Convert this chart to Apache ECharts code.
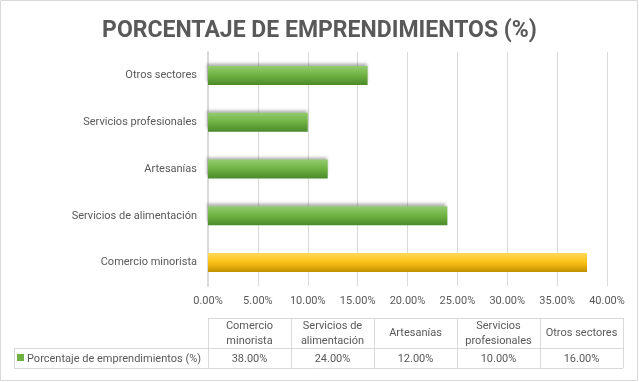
<!DOCTYPE html>
<html><head><meta charset="utf-8">
<script src="https://cdn.jsdelivr.net/npm/echarts@6/dist/echarts.min.js"></script>
<style>html,body{margin:0;padding:0;background:#fff}#c{width:639px;height:382px}</style>
</head><body><div id="c"></div>
<script>
const categories = ['Comercio minorista','Servicios de alimentación','Artesanías','Servicios profesionales','Otros sectores'];
const tableHeaders = [['Comercio','minorista'],['Servicios de','alimentación'],['Artesanías'],['Servicios','profesionales'],['Otros sectores']];
const values = [38, 24, 12, 10, 16];
const seriesName = 'Porcentaje de emprendimientos (%)';
const highlightIndex = 0;

const txt = '#595959';
const font = 'Roboto, "Noto Sans", sans-serif';
const green = new echarts.graphic.LinearGradient(0,0,0,1,[{offset:0,color:'#93cd6f'},{offset:0.5,color:'#6fb142'},{offset:1,color:'#4a8a2a'}]);
const yellow = new echarts.graphic.LinearGradient(0,0,0,1,[{offset:0,color:'#ffd957'},{offset:0.5,color:'#fcc014'},{offset:1,color:'#c08f00'}]);

const chart = echarts.init(document.getElementById('c'));

// table layout
const colX = [208, 291, 374, 457, 540, 623];
const tTop = 318, tMid = 348, tBot = 368, tLeft = 14;
const lineStyle = {stroke:'#d9d9d9', lineWidth:1};
const g = [];
g.push({type:'rect', shape:{x:0.5,y:0.5,width:637,height:380}, style:{fill:null, stroke:'#d9d9d9', lineWidth:1}, silent:true});
g.push({type:'line', shape:{x1:colX[0],y1:tTop+0.5,x2:colX[5],y2:tTop+0.5}, style:lineStyle});
g.push({type:'line', shape:{x1:tLeft,y1:tMid+0.5,x2:colX[5],y2:tMid+0.5}, style:lineStyle});
g.push({type:'line', shape:{x1:tLeft,y1:tBot+0.5,x2:colX[5],y2:tBot+0.5}, style:lineStyle});
g.push({type:'line', shape:{x1:tLeft+0.5,y1:tMid,x2:tLeft+0.5,y2:tBot}, style:lineStyle});
colX.forEach(x => g.push({type:'line', shape:{x1:x+0.5,y1:tTop,x2:x+0.5,y2:tBot}, style:lineStyle}));
tableHeaders.forEach((h, i) => {
  const cx = (colX[i] + colX[i+1]) / 2;
  const startY = h.length === 2 ? tTop + 8 : tTop + 15;
  h.forEach((l, j) => g.push({type:'text', style:{text:l, x:cx, y:startY + j*15, align:'center', verticalAlign:'middle', fill:txt, font:'11px ' + font}}));
  g.push({type:'text', style:{text:values[i].toFixed(2)+'%', x:cx, y:(tMid+tBot)/2+1, align:'center', verticalAlign:'middle', fill:txt, font:'11px ' + font}});
});
g.push({type:'rect', shape:{x:17,y:354,width:7,height:7}, style:{fill:'#6fb142'}});
g.push({type:'text', style:{text:seriesName, x:27, y:(tMid+tBot)/2+1, align:'left', verticalAlign:'middle', fill:txt, font:'11px ' + font}});

chart.setOption({
  animation:false,
  title:{text:'PORCENTAJE DE EMPRENDIMIENTOS (%)', left:'center', top:15,
    textStyle:{color:txt, fontSize:23, fontWeight:'bold', fontFamily:font}},
  grid:{left:208, right:32, top:52, bottom:96, containLabel:false},
  xAxis:{type:'value', min:0, max:40, interval:5,
    axisLine:{show:false}, axisTick:{show:false},
    axisLabel:{color:txt, fontSize:11, fontFamily:font, margin:10, formatter:v=>v.toFixed(2)+'%'},
    splitLine:{lineStyle:{color:'#d9d9d9'}}},
  yAxis:{type:'category', data:categories,
    axisLine:{lineStyle:{color:'#d9d9d9', width:2}}, axisTick:{show:false},
    axisLabel:{color:txt, fontSize:11, fontFamily:font, margin:11}},
  series:[{type:'bar', name:seriesName, barWidth:19,
    data: values.map((v,i)=>({value:v, itemStyle: i===highlightIndex ? {color:yellow} : {color:green, shadowColor:'rgba(0,0,0,0.3)', shadowBlur:3, shadowOffsetX:-1, shadowOffsetY:-3}}))}],
  graphic:g
});
</script></body></html>
